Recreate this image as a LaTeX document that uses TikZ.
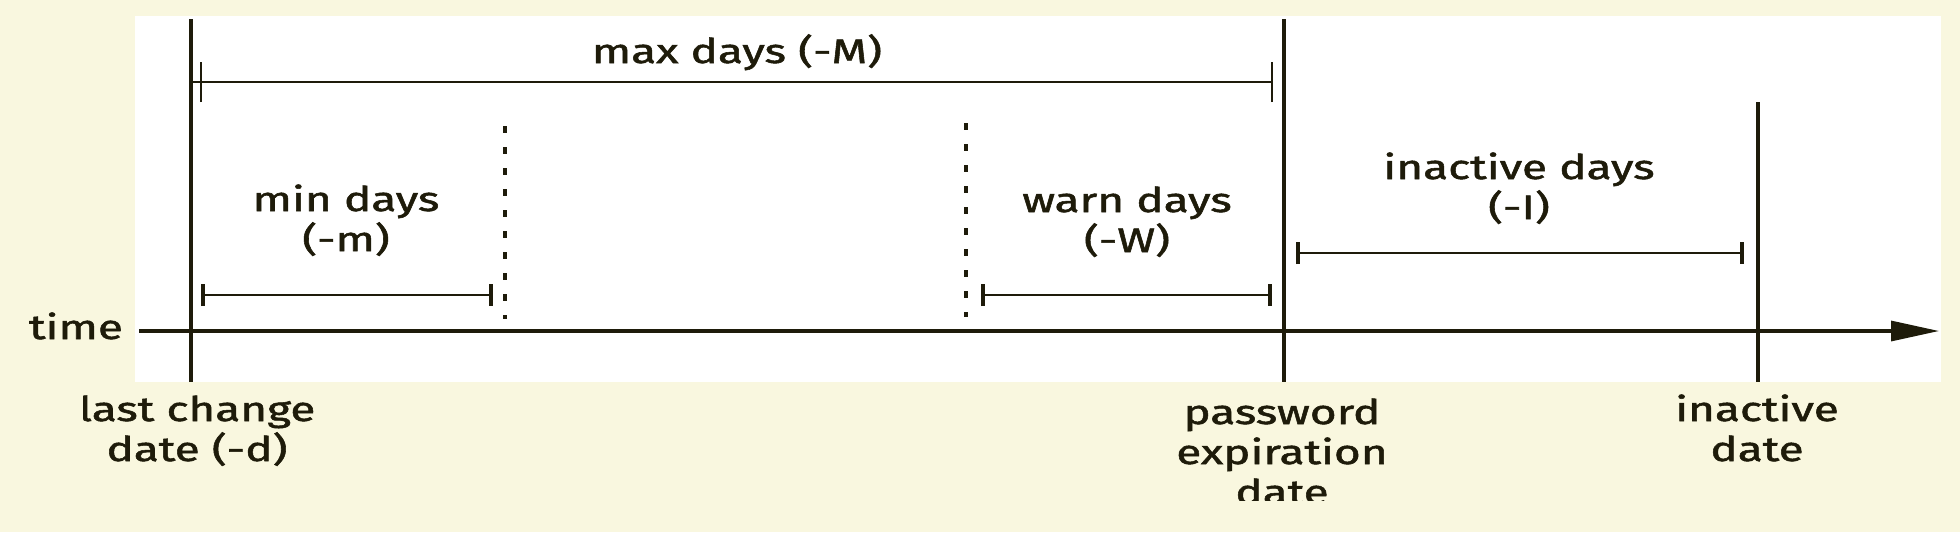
\documentclass[tikz,border=0pt]{standalone}
\usepackage{fontspec}
\setmainfont{Fira Sans}[FakeStretch=1.35,FakeBold=1.6]
\usetikzlibrary{arrows.meta}
\definecolor{cream}{RGB}{249,247,223}
\definecolor{ink}{RGB}{30,27,10}
\begin{document}
\begin{tikzpicture}[x=0.5pt,y=-0.5pt,
  lbl/.style={font=\fontsize{17}{20}\selectfont, text=ink, inner sep=0pt, align=center, anchor=base},
  mainline/.style={draw=ink, line width=1.6pt},
  dimline/.style={draw=ink, line width=1.3pt},
  thinline/.style={draw=ink, line width=0.9pt},
  dotline/.style={draw=ink, line width=2pt, dash pattern=on 3.5pt off 7pt},
  dimtick/.style={dimline, {Bar[width=11pt,line width=1.8pt]}-{Bar[width=11pt,line width=1.8pt]}}
]
% background and panel
\fill[cream] (0,0) rectangle (1960,532);
\fill[white] (135,16) rectangle (1941,382);

% key dates
\coordinate (lcTop) at (191,19);   \coordinate (lcBot) at (191,382);
\coordinate (peTop) at (1284,19);  \coordinate (peBot) at (1284,382);
\coordinate (idTop) at (1758,102); \coordinate (idBot) at (1758,382);
\coordinate (minTop) at (505,126); \coordinate (minBot) at (505,319);
\coordinate (wrnTop) at (966,123); \coordinate (wrnBot) at (966,317);

% time axis
\node[lbl] (time) at (76,339) {time};
\coordinate (axS) at (139,331);
\coordinate (axE) at (1939,331);
\draw[mainline, -{Triangle[length=24pt,width=10pt]}] (axS) -- (axE);

% vertical markers
\draw[mainline] (lcTop) -- (lcBot);
\draw[mainline] (peTop) -- (peBot);
\draw[mainline] (idTop) -- (idBot);
\draw[dotline] (minTop) -- (minBot);
\draw[dotline] (wrnTop) -- (wrnBot);

% max days
\coordinate (mxA) at (191,82);
\coordinate (mxL) at (201,82);
\coordinate (mxR) at (1272,82);
\draw[thinline] (mxA) -- (mxR);
\draw[thinline] ([yshift=-10]mxL) -- ([yshift=10]mxL);
\draw[thinline] ([yshift=-10]mxR) -- ([yshift=10]mxR);
\node[lbl] (maxd) at (737,63) {max days (-M)};

% min days
\coordinate (mnL) at (201,295);
\coordinate (mnR) at (493,295);
\draw[dimtick] (mnL) -- (mnR);
\node[lbl] (mind) at (346,251) {min days\\(-m)};

% warn days
\coordinate (wnL) at (981,295);
\coordinate (wnR) at (1272,295);
\draw[dimtick] (wnL) -- (wnR);
\node[lbl] (warnd) at (1127,252) {warn days\\(-W)};

% inactive days
\coordinate (inL) at (1296,253);
\coordinate (inR) at (1744,253);
\draw[dimtick] (inL) -- (inR);
\node[lbl] (inactd) at (1519,219) {inactive days\\(-I)};

% bottom labels
\begin{scope}
\clip (83,383) rectangle (1960,500);
\node[lbl] (lastchg) at (197,461) {last change\\date (-d)};
\node[lbl] (pwexp) at (1282,504) {password\\expiration\\date};
\node[lbl] (inactdt) at (1757,461) {inactive\\date};
\end{scope}
\end{tikzpicture}
\end{document}
